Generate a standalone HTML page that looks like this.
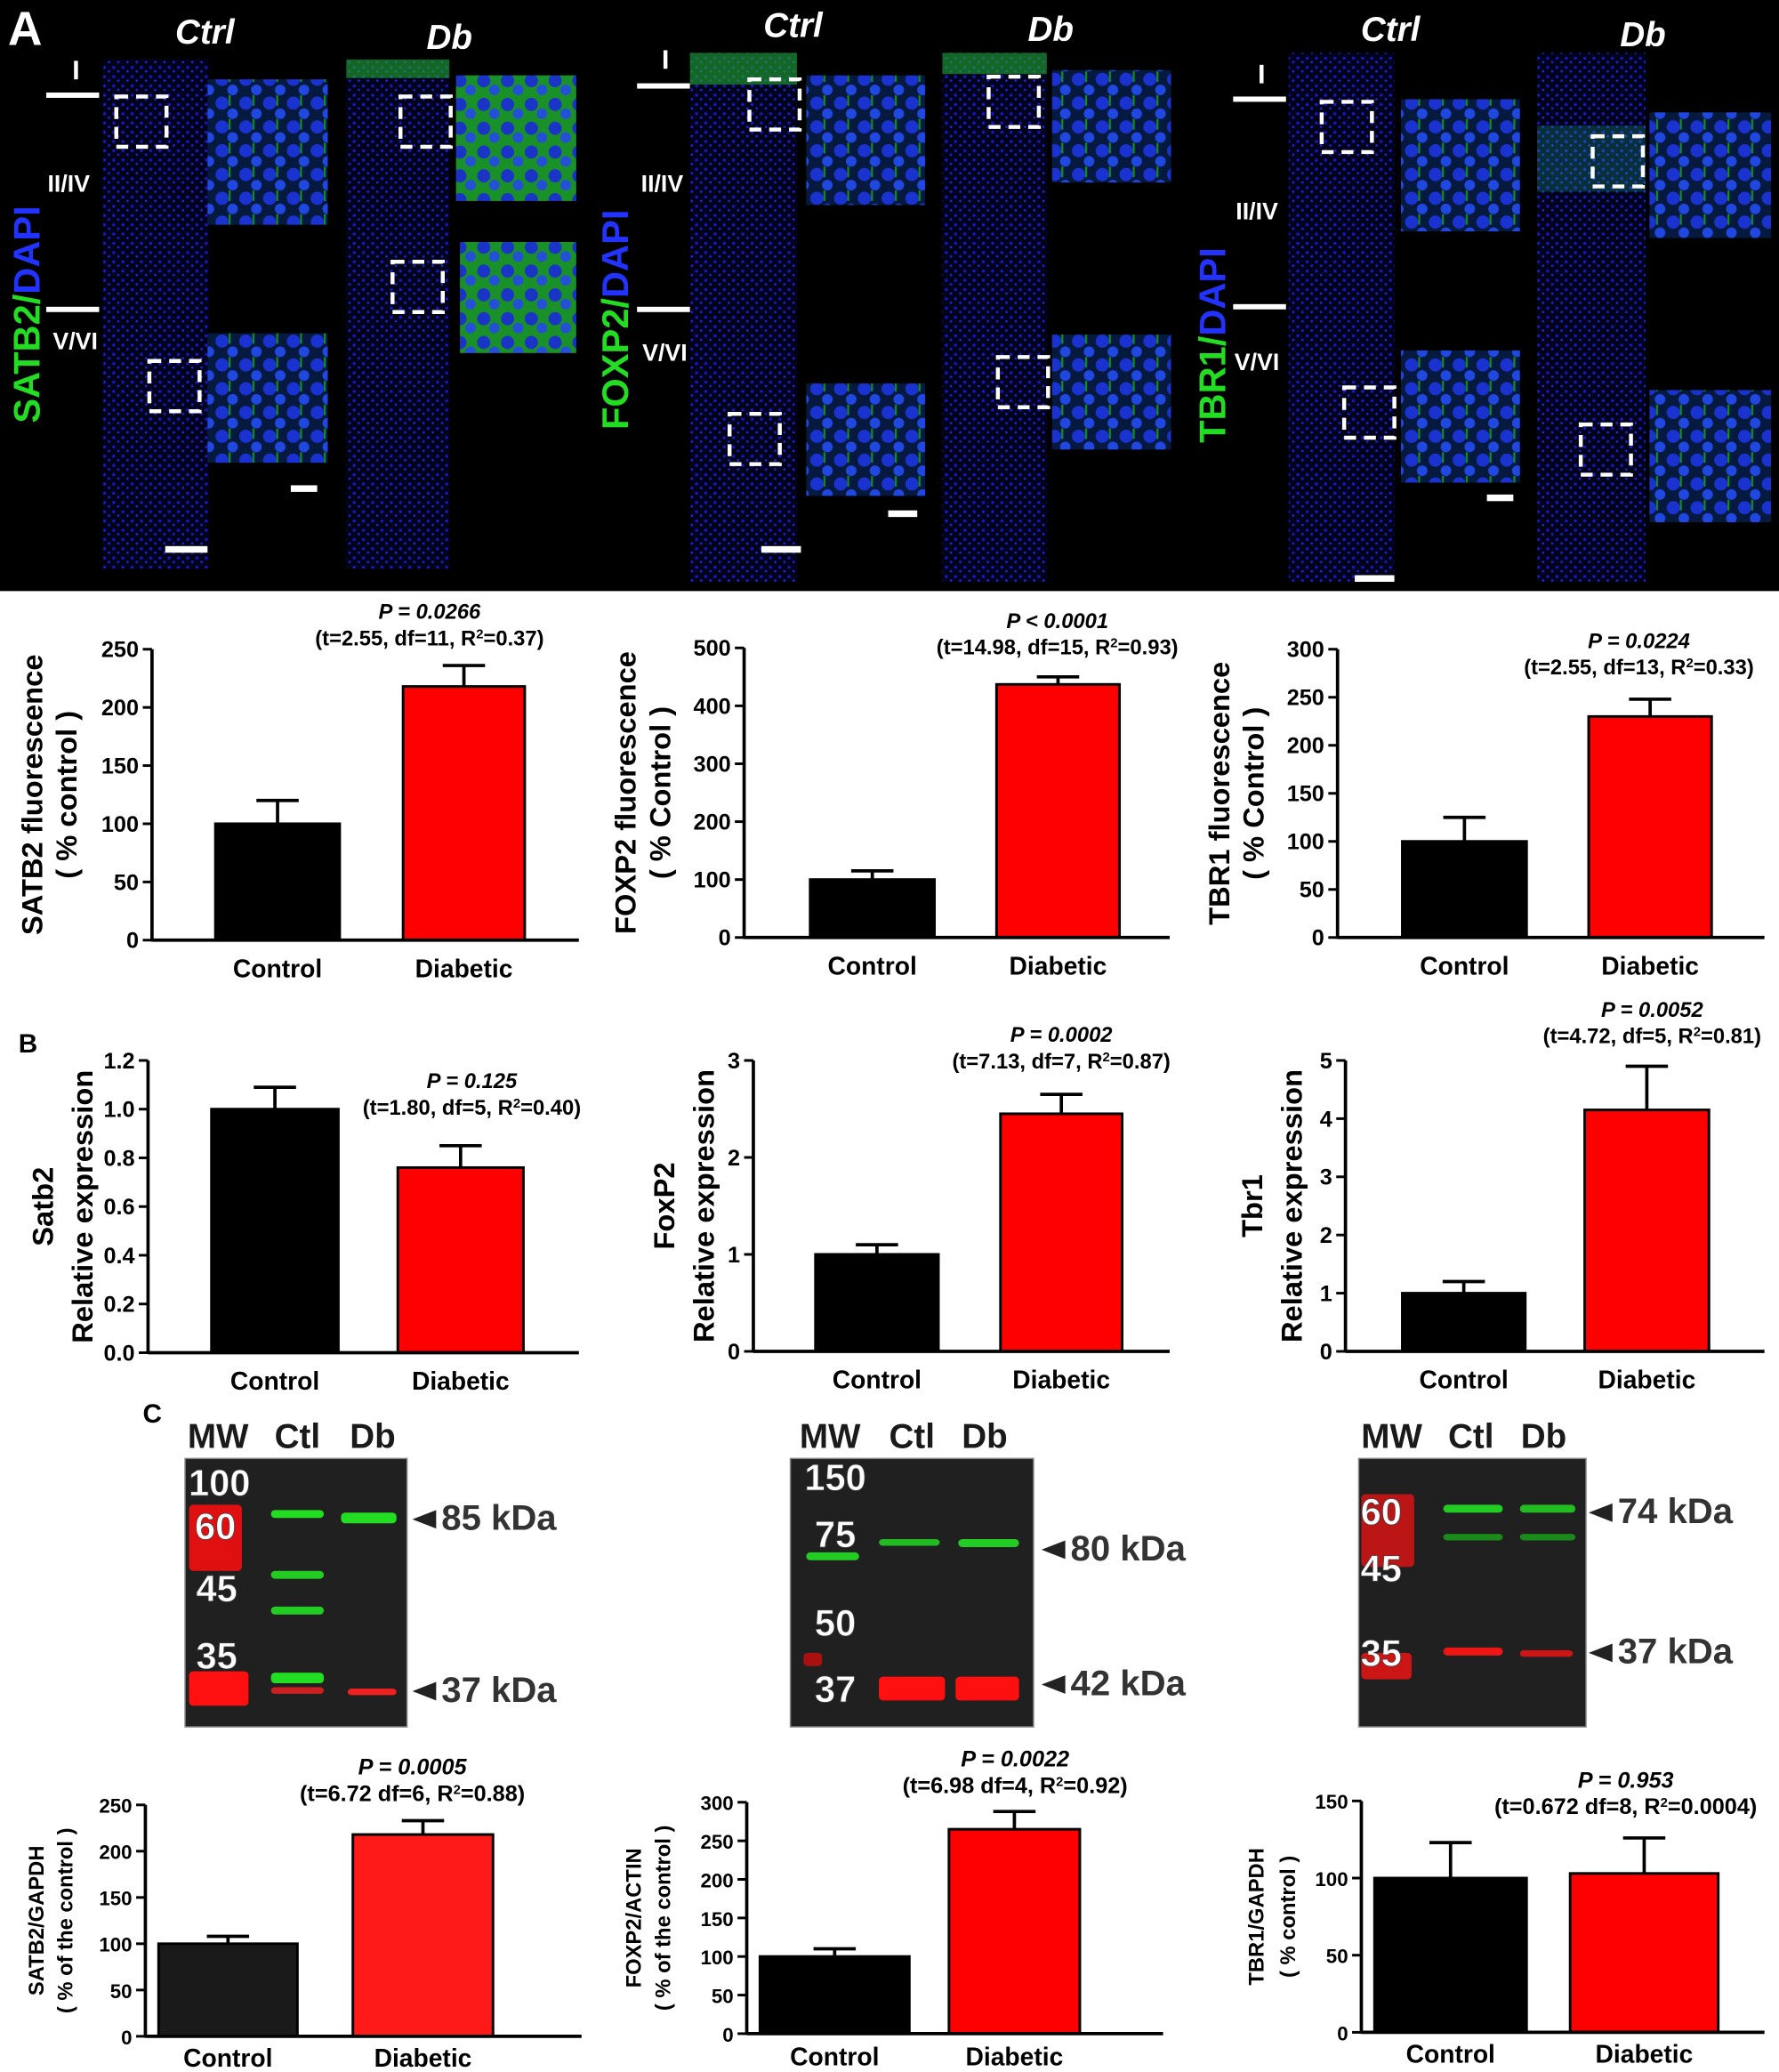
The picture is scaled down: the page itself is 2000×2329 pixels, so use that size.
<!DOCTYPE html>
<html><head><meta charset="utf-8"><style>
html,body{margin:0;padding:0;background:#fff}
svg{display:block}
text{font-family:"Liberation Sans",Arial,sans-serif;font-weight:bold}
</style></head><body>
<svg id="fig" width="2000" height="2329" viewBox="0 0 1346 1567" preserveAspectRatio="none" xmlns="http://www.w3.org/2000/svg">
<defs>
<pattern id="cells" width="7" height="7" patternUnits="userSpaceOnUse">
<rect width="7" height="7" fill="#02021a"/>
<circle cx="2" cy="2" r="1.2" fill="#1818c8"/><circle cx="5.5" cy="5" r="0.9" fill="#1c28e0"/>
</pattern>
<pattern id="zoomcells" width="18" height="18" patternUnits="userSpaceOnUse">
<rect width="18" height="18" fill="#061a40"/>
<circle cx="6" cy="6" r="5" fill="#1a32d0"/><circle cx="14" cy="14" r="4" fill="#2048e0"/><rect x="11" y="0" width="1.5" height="8" fill="#158a28"/>
</pattern>
<pattern id="greencells" width="18" height="18" patternUnits="userSpaceOnUse">
<rect width="18" height="18" fill="#1a9028"/>
<circle cx="6" cy="7" r="5" fill="#1a34c8"/><circle cx="14" cy="14" r="4" fill="#2450d8"/>
</pattern>
</defs>
<g id="panelA">
<rect x="0" y="0" width="1346" height="447" fill="#000"/>
<text x="6" y="34" font-size="36" fill="#fff">A</text>
</g>
<g id="charts"></g>
<g id="blots"></g>
</svg>
<script>
const NS="http://www.w3.org/2000/svg";
function mk(tag,attrs,parent,txt){const e=document.createElementNS(NS,tag);for(const k in attrs)e.setAttribute(k,attrs[k]);if(txt!==undefined)e.textContent=txt;parent.appendChild(e);return e;}
const A=document.getElementById('panelA');

// ---- Panel A micrographs ----
const strips=[[78,45,80,385],[262,45,78,385],[522,40,81,400],[713,40,79,400],[975,40,80,400],[1163,40,82,400]];
strips.forEach(s=>{const r=mk('rect',{x:s[0],y:s[1],width:s[2],height:s[3],fill:'url(#cells)'},A);

});
const greenTops=[[262,45,78,14],[522,40,81,24],[713,40,79,16]];
greenTops.forEach(s=>mk('rect',{x:s[0],y:s[1],width:s[2],height:s[3],fill:'#1faa2a',opacity:0.6},A));
mk('rect',{x:1163,y:95,width:82,height:50,fill:'#20b8a0',opacity:0.25},A);
const insets=[[157,60,91,110,'zoomcells'],[157,252,91,98,'zoomcells'],[345,57,91,95,'greencells'],[348,183,88,84,'greencells'],
[610,57,90,98,'zoomcells'],[610,290,90,85,'zoomcells'],[796,53,90,85,'zoomcells'],[796,253,90,87,'zoomcells'],
[1060,75,90,100,'zoomcells'],[1060,265,90,100,'zoomcells'],[1248,85,92,95,'zoomcells'],[1248,295,92,100,'zoomcells']];
insets.forEach(s=>{const r=mk('rect',{x:s[0],y:s[1],width:s[2],height:s[3],fill:'url(#'+s[4]+')'},A);

});
const boxes=[[88,73],[113,273],[303,73],[297,198],[567,60],[552,313],[748,58],[755,270],[1000,77],[1017,293],[1205,103],[1196,321]];
boxes.forEach(b=>mk('rect',{x:b[0],y:b[1],width:38,height:38,fill:'none',stroke:'#fff','stroke-width':3,'stroke-dasharray':'9,6'},A));
const scale=[[125,413,32],[220,367,20],[576,413,30],[672,386,22],[1025,435,30],[1125,374,20]];
scale.forEach(s=>mk('rect',{x:s[0],y:s[1],width:s[2],height:5,fill:'#fff'},A));
[[35,70,40],[35,232,40],[482,63,40],[482,232,40],[933,73,40],[933,230,40]].forEach(s=>mk('rect',{x:s[0],y:s[1],width:s[2],height:4,fill:'#fff'},A));
[[56,58],[502,50],[953,61]].forEach(s=>mk('rect',{x:s[0],y:s[1]-12,width:3,height:14,fill:'#fff'},A));
const lab=[['II/IV',52,145],['V/VI',57,264],['II/IV',501,145],['V/VI',503,273],['II/IV',951,166],['V/VI',951,280]];
lab.forEach(l=>mk('text',{x:l[1],y:l[2],'font-size':18,fill:'#fff','text-anchor':'middle','font-weight':'normal'},A,l[0]));
const heads=[['Ctrl',155,33],['Db',340,37],['Ctrl',600,28],['Db',795,31],['Ctrl',1052,31],['Db',1243,35]];
heads.forEach(h=>mk('text',{x:h[1],y:h[2],'font-size':26,fill:'#fff','text-anchor':'middle','font-style':'italic'},A,h[0]));
[['SATB2',30,320],['FOXP2',475,325],['TBR1',927,335]].forEach(m=>{
 const t=mk('text',{x:m[1],y:m[2],'font-size':28,transform:'rotate(-90 '+m[1]+' '+m[2]+')'},A);
 mk('tspan',{fill:'#22dd22'},t,m[0]+'/');mk('tspan',{fill:'#2233ff'},t,'DAPI');});

// ---- Chart data ----
const categories=['Control','Diabetic'];
const satb2Fluor=[100,218]; const satb2FluorErr=[120,236]; const satb2FluorTicks=[0,50,100,150,200,250];
const foxp2Fluor=[100,437]; const foxp2FluorErr=[115,450]; const foxp2FluorTicks=[0,100,200,300,400,500];
const tbr1Fluor=[100,230]; const tbr1FluorErr=[125,248]; const tbr1FluorTicks=[0,50,100,150,200,250,300];
const satb2Expr=[1.0,0.76]; const satb2ExprErr=[1.09,0.85]; const satb2ExprTicks=['0.0','0.2','0.4','0.6','0.8','1.0','1.2'];
const foxp2Expr=[1.0,2.45]; const foxp2ExprErr=[1.1,2.65]; const foxp2ExprTicks=[0,1,2,3];
const tbr1Expr=[1.0,4.15]; const tbr1ExprErr=[1.2,4.9]; const tbr1ExprTicks=[0,1,2,3,4,5];
const satb2Wb=[100,218]; const satb2WbErr=[108,233]; const satb2WbTicks=[0,50,100,150,200,250];
const foxp2Wb=[100,265]; const foxp2WbErr=[110,288]; const foxp2WbTicks=[0,50,100,150,200,250,300];
const tbr1Wb=[100,103]; const tbr1WbErr=[123,126]; const tbr1WbTicks=[0,50,100,150];

const C=document.getElementById('charts');
function chart(o){
 const g=mk('g',{},C);
 
 
 const max=+o.ticks[o.ticks.length-1];
 const y=v=>o.y0-(v/max)*(o.y0-o.y1);
 const fs=o.fs||17;
 o.vals.forEach((v,i)=>{
  const bx=o.bars[i][0],bw=o.bars[i][1]-o.bars[i][0];
  const cx=bx+bw/2;
  const e=mk('line',{x1:cx,x2:cx,y1:y(v),y2:y(o.err[i]),stroke:'#000','stroke-width':2.5},g);
  
  
  mk('line',{x1:cx-16,x2:cx+16,y1:y(o.err[i]),y2:y(o.err[i]),stroke:'#000','stroke-width':2.5},g);
  const r=mk('rect',{x:bx,y:y(v),width:bw,height:o.y0-y(v),fill:i?(o.red||'#ff0000'):(o.blk||'#000'),stroke:'#000','stroke-width':2},g);
  
  
  const t=mk('text',{x:cx,y:o.y0+(o.lblOff||28),'font-size':19,'text-anchor':'middle'},g,categories[i]);
  
  
 });
 mk('line',{x1:o.ax,x2:o.ax,y1:o.y1,y2:o.y0+1,stroke:'#000','stroke-width':2.5},g);
 mk('line',{x1:o.ax,x2:o.axEnd,y1:o.y0,y2:o.y0,stroke:'#000','stroke-width':2.5},g);
 o.ticks.forEach(tk=>{const yy=y(+tk);
  mk('line',{x1:o.ax-7,x2:o.ax,y1:yy,y2:yy,stroke:'#000','stroke-width':2},g);
  const t=mk('text',{x:o.ax-10,y:yy+6,'font-size':fs,'text-anchor':'end'},g,String(tk));
  
  });
 const tl=o.title;
 tl.forEach((s,i)=>{const tx=o.tx+i*(o.tgap||26),ty=(o.y0+o.y1)/2;
  const t=mk('text',{x:tx,y:ty,'font-size':o.tfs||22,'text-anchor':'middle',transform:'rotate(-90 '+tx+' '+ty+')'},g,s);
  
  });
 const p=mk('text',{x:o.px,y:o.py,'font-size':o.pfs||16,'text-anchor':'middle','font-style':'italic'},g,o.p);
 
 
 const s=mk('text',{x:o.px+(o.sdx||0),y:o.py+20,'font-size':o.pfs||16,'text-anchor':'middle'},g);
 mk('tspan',{},s,o.stat[0]);mk('tspan',{'baseline-shift':'super','font-size':10},s,'2');mk('tspan',{},s,o.stat[1]);
}
chart({name:'satb2-fluorescence-chart',vals:satb2Fluor,err:satb2FluorErr,ticks:satb2FluorTicks,ax:115,axEnd:438,y0:711,y1:491,bars:[[163,257],[305,397]],title:['SATB2 fluorescence','( % control )'],tx:32,p:'P = 0.0266',stat:['(t=2.55, df=11, R','=0.37)'],px:325,py:468});
chart({name:'foxp2-fluorescence-chart',vals:foxp2Fluor,err:foxp2FluorErr,ticks:foxp2FluorTicks,ax:563,axEnd:885,y0:709,y1:490,bars:[[613,707],[754,847]],title:['FOXP2 fluorescence','( % Control )'],tx:481,p:'P < 0.0001',stat:['(t=14.98, df=15, R','=0.93)'],px:800,py:475});
chart({name:'tbr1-fluorescence-chart',vals:tbr1Fluor,err:tbr1FluorErr,ticks:tbr1FluorTicks,ax:1012,axEnd:1335,y0:709,y1:491,bars:[[1061,1155],[1202,1295]],title:['TBR1 fluorescence','( % Control )'],tx:930,p:'P = 0.0224',stat:['(t=2.55, df=13, R','=0.33)'],px:1240,py:490});
chart({name:'satb2-expression-chart',vals:satb2Expr,err:satb2ExprErr,ticks:satb2ExprTicks,ax:112,axEnd:438,y0:1023,y1:802,bars:[[160,256],[301,396]],title:['Satb2','Relative expression'],tx:40,tgap:30,p:'P = 0.125',stat:['(t=1.80, df=5, R','=0.40)'],px:357,py:823});
chart({name:'foxp2-expression-chart',vals:foxp2Expr,err:foxp2ExprErr,ticks:foxp2ExprTicks,ax:570,axEnd:885,y0:1022,y1:802,bars:[[617,710],[757,849]],title:['FoxP2','Relative expression'],tx:510,tgap:30,p:'P = 0.0002',stat:['(t=7.13, df=7, R','=0.87)'],px:803,py:788});
chart({name:'tbr1-expression-chart',vals:tbr1Expr,err:tbr1ExprErr,ticks:tbr1ExprTicks,ax:1018,axEnd:1335,y0:1022,y1:802,bars:[[1061,1154],[1199,1293]],title:['Tbr1','Relative expression'],tx:955,tgap:30,p:'P = 0.0052',stat:['(t=4.72, df=5, R','=0.81)'],px:1250,py:769});
chart({name:'satb2-gapdh-chart',vals:satb2Wb,err:satb2WbErr,ticks:satb2WbTicks,ax:110,axEnd:440,y0:1540,y1:1365,bars:[[120,225],[267,373]],title:['SATB2/GAPDH','( % of the control )'],tx:33,tgap:22,tfs:16,fs:15,p:'P = 0.0005',stat:['(t=6.72 df=6, R','=0.88)'],px:312,py:1342,pfs:17,lblOff:23,blk:'#1a1a1a',red:'#ff1a1a'});
chart({name:'foxp2-actin-chart',vals:foxp2Wb,err:foxp2WbErr,ticks:foxp2WbTicks,ax:565,axEnd:880,y0:1538,y1:1363,bars:[[575,688],[718,817]],title:['FOXP2/ACTIN','( % of the control )'],tx:485,tgap:22,tfs:16,fs:15,p:'P = 0.0022',stat:['(t=6.98 df=4, R','=0.92)'],px:768,py:1336,pfs:17,lblOff:24});
chart({name:'tbr1-gapdh-chart',vals:tbr1Wb,err:tbr1WbErr,ticks:tbr1WbTicks,ax:1030,axEnd:1335,y0:1537,y1:1362,bars:[[1040,1155],[1188,1300]],title:['TBR1/GAPDH','( % control )'],tx:956,tgap:24,tfs:16,fs:15,p:'P = 0.953',stat:['(t=0.672 df=8, R','=0.0004)'],px:1230,py:1352,pfs:17,lblOff:23});
[['B',14,796],['C',108,1076]].forEach(l=>{const t=mk('text',{x:l[1],y:l[2],'font-size':20},C,l[0]);

});

// ---- Western blots ----
const B=document.getElementById('blots');
function blot(x,w,hdr,mw,bands,kda){
 mk('rect',{x:x,y:1103,width:w,height:203,fill:'#202020',stroke:'#888','stroke-width':1},B);
 hdr.forEach(h=>mk('text',{x:h[1],y:1095,'font-size':26,'text-anchor':'middle',fill:'#1a1a1a'},B,h[0]));
 bands.forEach(b=>mk('rect',{x:b[0],y:b[1],width:b[2],height:b[3],rx:3,fill:b[4]},B));
 mw.forEach(m=>mk('text',{x:m[1],y:m[2],'font-size':28,'text-anchor':'middle',fill:'#fff',stroke:'#444','stroke-width':0.5},B,m[0]));
 kda.forEach(k=>{mk('path',{d:`M${k[1]} ${k[2]-8} l18 -7 v14 z`,fill:'#222'},B);
  mk('text',{x:k[1]+22,y:k[2],'font-size':27,fill:'#333'},B,k[0]);});
}
blot(140,168,[['MW',165],['Ctl',225],['Db',282]],[['100',166,1131],['60',163,1164],['45',164,1211],['35',164,1262]],
 [[143,1138,40,50,'#e01010'],[143,1264,45,26,'#ff1010'],[205,1142,40,6,'#22dd22'],[258,1144,42,8,'#22dd22'],[205,1188,40,6,'#22cc22'],[205,1215,40,6,'#22cc22'],[205,1265,40,8,'#22dd22'],[205,1276,40,5,'#cc2020'],[263,1277,37,5,'#ee2020']],
 [['85 kDa',312,1157],['37 kDa',312,1287]]);
blot(598,184,[['MW',628],['Ctl',690],['Db',745]],[['150',632,1127],['75',632,1170],['50',632,1237],['37',632,1287]],
 [[610,1174,40,6,'#22cc22'],[665,1164,46,5,'#22bb22'],[725,1164,46,6,'#22cc22'],[665,1268,50,18,'#ff1010'],[723,1268,48,18,'#ff1010'],[608,1250,14,10,'#aa1010']],
 [['80 kDa',788,1180],['42 kDa',788,1282]]);
blot(1028,172,[['MW',1053],['Ctl',1113],['Db',1168]],[['60',1045,1153],['45',1045,1196],['35',1045,1260]],
 [[1030,1130,40,55,'#bb1515'],[1030,1250,38,20,'#cc1515'],[1092,1138,45,6,'#22cc22'],[1150,1138,42,6,'#22bb22'],[1092,1160,45,5,'#1a8a1a'],[1150,1160,42,5,'#1a8a1a'],[1092,1246,45,6,'#ee1515'],[1150,1248,40,5,'#cc1515']],
 [['74 kDa',1202,1152],['37 kDa',1202,1258]]);
</script>
</body></html>
